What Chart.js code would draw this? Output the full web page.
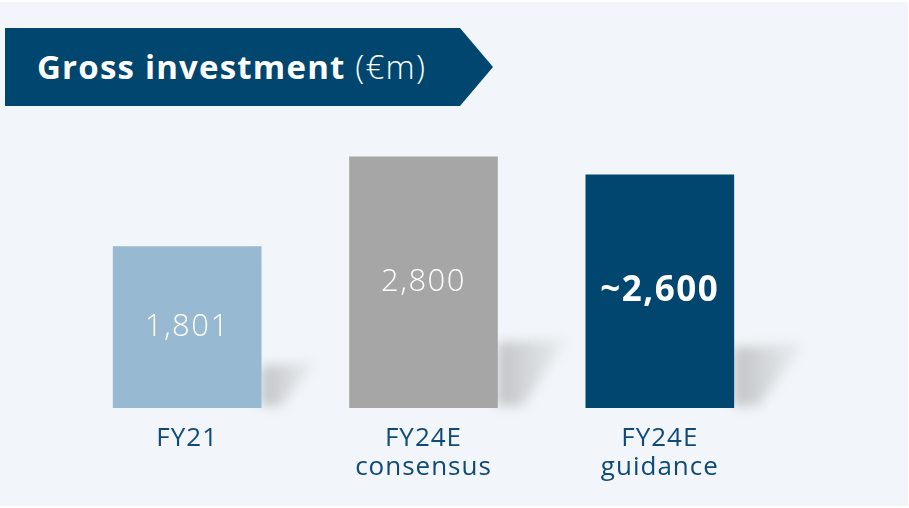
<!DOCTYPE html>
<html>
<head>
<meta charset="utf-8">
<script src="https://cdn.jsdelivr.net/npm/chart.js@4"></script>
<style>
  html, body { margin: 0; padding: 0; background: #ffffff; }
  #wrap { position: relative; width: 909px; height: 508px; }
  #panel { position: absolute; left: 0; top: 2px; width: 908px; height: 504px; background: #f2f6fa; }
  #banner {
    position: absolute; left: 5px; top: 28px; width: 488px; height: 78px;
    background: #00466e;
    clip-path: polygon(0 0, 455px 0, 488px 39px, 455px 78px, 0 78px);
    color: #fff; font-family: "Open Sans", sans-serif; font-size: 33px; letter-spacing: 1.2px;
    line-height: 78px; padding-left: 32px; box-sizing: border-box; white-space: nowrap;
  }
  #banner b { font-weight: 700; }
  #banner span { font-weight: 300; }
  canvas { position: absolute; left: 0; top: 0; }
</style>
</head>
<body>
<div id="wrap">
  <div id="panel"></div>
  <div id="banner"><b>Gross investment</b> <span>(€m)</span></div>
  <canvas id="grafico" width="909" height="508"></canvas>
</div>
<script>
// Categorias e valores
const categorias = [["FY21"], ["FY24E", "consensus"], ["FY24E", "guidance"]];
const valores = [1801, 2800, 2600];
const rotulos = ["1,801", "2,800", "~2,600"];
const negrito = [false, false, true];

const cores = [
  "#97b9d1", // azul claro
  "#a6a6a6", // cinza
  "#00466e"  // azul escuro
];

// espaçamento de letras para o texto do canvas
const espacoPlugin = {
  id: "espaco",
  beforeDraw(chart) { chart.ctx.letterSpacing = "1px"; }
};

// sombra projetada à direita de cada barra
const sombraPlugin = {
  id: "sombra",
  beforeDatasetsDraw(chart) {
    const ctx = chart.ctx;
    chart.getDatasetMeta(0).data.forEach(bar => {
      const dir = bar.x + bar.width / 2;
      const base = bar.base;
      const h = (base - bar.y) * 0.26;
      const w = Math.min(h * 1.3, 70);
      ctx.save();
      ctx.filter = "blur(6px)";
      const g = ctx.createLinearGradient(dir, 0, dir + w, 0);
      g.addColorStop(0, "rgba(130,130,130,0.45)");
      g.addColorStop(1, "rgba(160,160,160,0.1)");
      ctx.fillStyle = g;
      ctx.beginPath();
      ctx.moveTo(dir, base - h);
      ctx.lineTo(dir + w, base - h - 4);
      ctx.lineTo(dir + w * 0.35, base - 2);
      ctx.lineTo(dir, base - 2);
      ctx.closePath();
      ctx.fill();
      ctx.restore();
    });
  }
};

// rótulos dentro das barras
const rotuloPlugin = {
  id: "rotulos",
  afterDatasetsDraw(chart) {
    const ctx = chart.ctx;
    chart.getDatasetMeta(0).data.forEach((bar, i) => {
      ctx.save();
      ctx.fillStyle = "#ffffff";
      ctx.textAlign = "center";
      ctx.textBaseline = "middle";
      ctx.letterSpacing = "1.5px";
      ctx.font = negrito[i] ? "700 35px 'Open Sans'" : "300 31px 'Open Sans'";
      ctx.fillText(rotulos[i], bar.x, (bar.y + bar.base) / 2);
      ctx.restore();
    });
  }
};

new Chart(document.getElementById("grafico"), {
  type: "bar",
  data: {
    labels: categorias,
    datasets: [{
      data: valores,
      backgroundColor: cores,
      barThickness: 148
    }]
  },
  options: {
    responsive: false,
    animation: false,
    layout: { padding: { left: 69, right: 131, top: 139, bottom: 0 } },
    plugins: { legend: { display: false }, tooltip: { enabled: false } },
    scales: {
      x: {
        grid: { display: false, drawTicks: false },
        border: { display: false },
        ticks: {
          color: "#0f4a78",
          padding: 17,
          font: { family: "Open Sans", size: 26, lineHeight: 1.08 }
        },
        afterFit(scale) { scale.height = 100; }
      },
      y: { display: false, beginAtZero: true, min: 0, max: 3000 }
    }
  },
  plugins: [espacoPlugin, sombraPlugin, rotuloPlugin]
});
</script>
</body>
</html>
